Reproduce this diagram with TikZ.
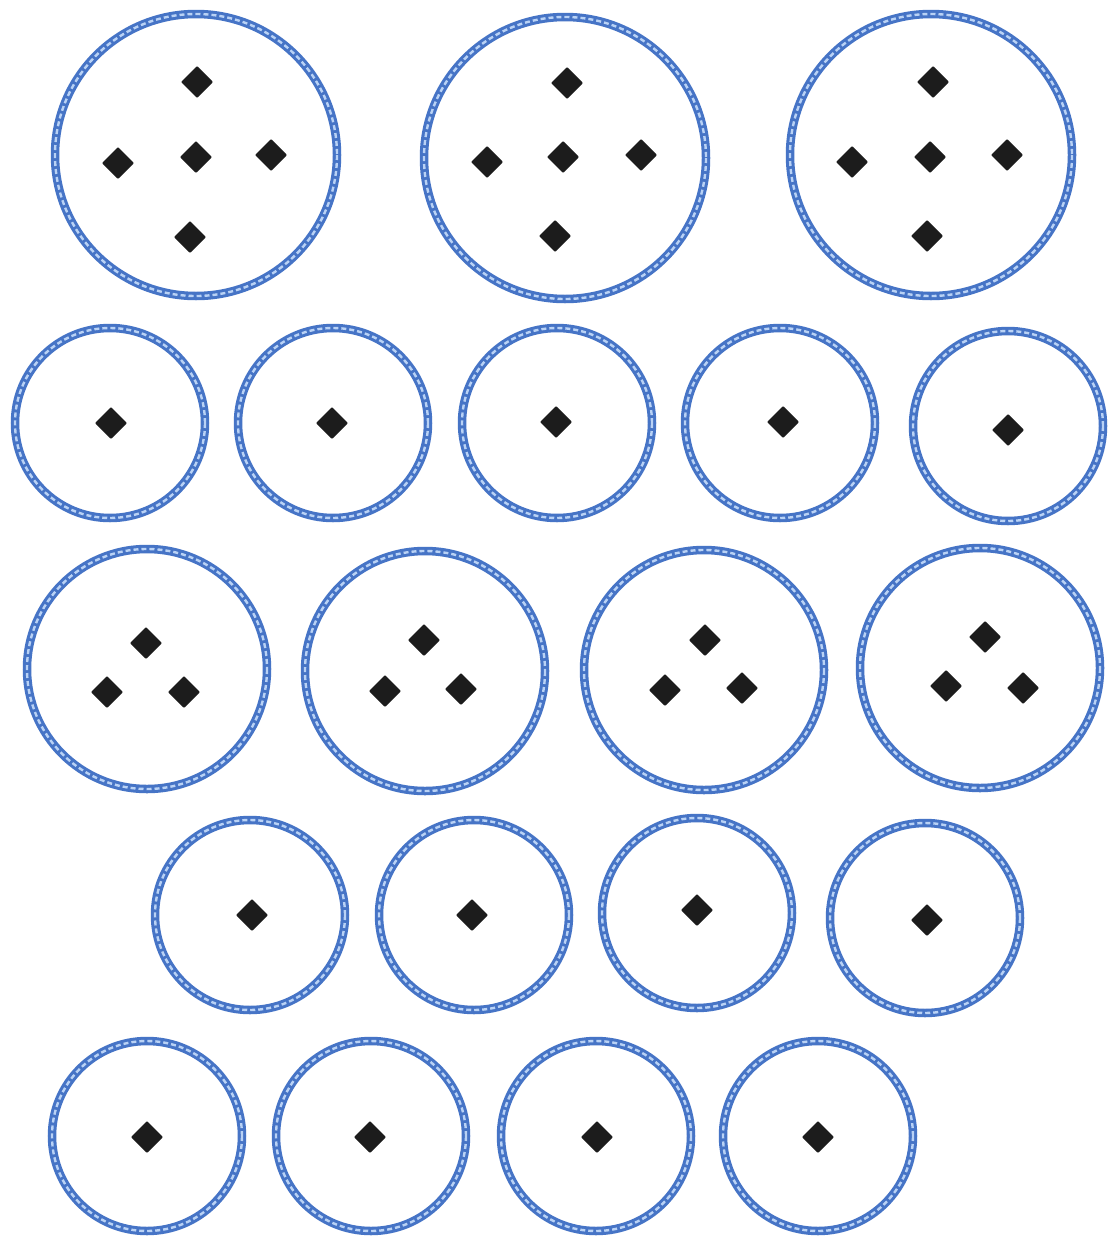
\documentclass[tikz,border=0pt]{standalone}
\definecolor{ringblue}{RGB}{70,116,198}
\definecolor{ringlight}{RGB}{185,210,245}
\definecolor{dia}{RGB}{28,28,28}
\begin{document}
\begin{tikzpicture}[x=1pt,y=-1pt,
  ringouter/.style={draw=ringblue,line width=8.5pt},
  ringinner/.style={draw=ringlight,line width=2.4pt,dash pattern=on 5pt off 3pt},
  diamondmark/.style={fill=dia,rounded corners=1pt}]
\useasboundingbox (0,0) rectangle (1110,1237);
\fill[white] (0,0) rectangle (1110,1237);
% rings: x, y, radius
\foreach \x/\y/\r in {
  196/155/141, 565/158/141, 931/155/141,
  110/423/95, 333/423/95, 557/423/95, 780/423/95, 1008/426/95,
  147/669/120, 425/671/120, 704/670/120, 980/668/120,
  250/915/95, 474/915/95, 697/913/95, 925/918/95,
  147/1136/95, 371/1136/95, 596/1136/95, 818/1136/95}{
  \draw[ringouter] (\x,\y) circle[radius=\r];
  \draw[ringinner] (\x,\y) circle[radius=\r];
}
% diamonds
\foreach \x/\y in {
  197/82, 118/163, 196/157, 271/155, 190/237,
  567/83, 487/162, 563/157, 641/155, 555/236,
  933/82, 852/162, 930/157, 1007/155, 927/236,
  111/423, 332/423, 556/422, 783/422, 1008/430,
  146/643, 107/692, 184/692,
  424/640, 385/691, 461/689,
  705/640, 665/690, 742/688,
  985/637, 946/686, 1023/688,
  252/915, 472/915, 697/910, 927/920,
  147/1137, 370/1137, 597/1137, 818/1137}{
  \fill[diamondmark] (\x,\y) +(0,-16) -- +(16,0) -- +(0,16) -- +(-16,0) -- cycle;
}
\end{tikzpicture}
\end{document}
